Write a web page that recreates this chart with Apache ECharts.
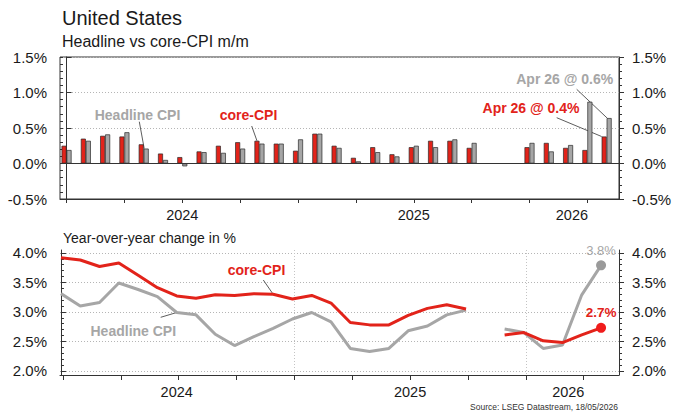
<!DOCTYPE html>
<html>
<head>
<meta charset="utf-8">
<title>United States CPI</title>
<script src="https://cdn.jsdelivr.net/npm/echarts@6/dist/echarts.min.js"></script>
<style>
  html, body { margin: 0; padding: 0; background: #fff; }
  #main { width: 673px; height: 414px; }
</style>
</head>
<body>
<div id="main"></div>
<script>
// months, Dec 2023 .. Apr 2026 (Oct/Nov 2025 m/m not published)
var months = ['Dec 23', 'Jan 24', 'Feb 24', 'Mar 24', 'Apr 24', 'May 24', 'Jun 24', 'Jul 24', 'Aug 24', 'Sep 24',
  'Oct 24', 'Nov 24', 'Dec 24', 'Jan 25', 'Feb 25', 'Mar 25', 'Apr 25', 'May 25', 'Jun 25', 'Jul 25',
  'Aug 25', 'Sep 25', 'Oct 25', 'Nov 25', 'Dec 25', 'Jan 26', 'Feb 26', 'Mar 26', 'Apr 26'];

// m/m change in %
var coreMoM = [0.25, 0.35, 0.39, 0.38, 0.27, 0.14, 0.09, 0.17, 0.25, 0.30, 0.32, 0.28, 0.18, 0.42, 0.25,
  0.08, 0.23, 0.13, 0.23, 0.32, 0.32, 0.22, null, null, 0.23, 0.29, 0.22, 0.19, 0.38];
var headlineMoM = [0.19, 0.32, 0.41, 0.44, 0.21, 0.05, -0.04, 0.16, 0.15, 0.21, 0.28, 0.28, 0.34, 0.42, 0.22,
  0.03, 0.16, 0.10, 0.25, 0.23, 0.34, 0.29, null, null, 0.29, 0.17, 0.26, 0.87, 0.64];

// y/y change in %
var coreYoY = [3.92, 3.88, 3.77, 3.83, 3.62, 3.41, 3.27, 3.23, 3.29, 3.28, 3.31, 3.30, 3.22, 3.28, 3.15,
  2.82, 2.78, 2.78, 2.94, 3.06, 3.12, 3.05, null, 2.61, 2.65, 2.51, 2.48, 2.61, 2.73];
var headlineYoY = [3.31, 3.10, 3.16, 3.49, 3.38, 3.26, 2.99, 2.95, 2.62, 2.43, 2.58, 2.72, 2.88, 2.99, 2.83,
  2.38, 2.33, 2.38, 2.68, 2.76, 2.95, 3.03, null, 2.71, 2.65, 2.38, 2.44, 3.29, 3.79];

// tick labels
var yearLabels = ['2024', '2025', '2026'];
var momTicks = [-0.5, 0, 0.5, 1.0, 1.5];
var yoyTicks = [2.0, 2.5, 3.0, 3.5, 4.0];

var FONT = '"Liberation Sans", Arial, sans-serif';
var RED = '#e2231a';
var GREY = '#a6a6a6';
var AXIS = '#333';
var TXT = '#1a1a1a';

var chart = echarts.init(document.getElementById('main'), null, { renderer: 'svg' });

function pairs(arr) {
  var out = [];
  arr.forEach(function (v, i) { out.push([i, v == null ? '-' : v]); });
  return out;
}

function minorsOf(ticks) {
  var out = [];
  for (var v = ticks[0]; v <= ticks[ticks.length - 1] + 1e-9; v += 0.1) out.push(Math.round(v * 10) / 10);
  return out;
}

// quarter ticks (every 3rd month)
var quarters = months.map(function (m, i) { return i; }).filter(function (i) { return i % 3 === 0; });

function yearFmt(pos) {
  return function (v) {
    var best = 0;
    pos.forEach(function (p, k) { if (Math.abs(p - v) < Math.abs(pos[best] - v)) best = k; });
    return yearLabels[best];
  };
}

function yAxes(grid, min, max, majors, split) {
  var minors = minorsOf(majors);
  var lbl = { customValues: majors, formatter: function (v) { return v.toFixed(1) + '%'; },
    fontSize: 15, color: TXT, fontFamily: FONT, margin: 13 };
  return [
    { type: 'value', gridIndex: grid, position: 'left', min: min, max: max,
      axisLine: { show: true, lineStyle: { color: AXIS } },
      axisTick: { show: true, inside: true, length: 5, customValues: majors, lineStyle: { color: AXIS } },
      axisLabel: lbl,
      splitLine: { show: split, lineStyle: { color: '#b5b5b5', type: [1, 2], width: 1 } } },
    { type: 'value', gridIndex: grid, position: 'left', min: min, max: max,
      axisLine: { show: false },
      axisTick: { show: true, inside: true, length: 3, customValues: minors, lineStyle: { color: AXIS } },
      axisLabel: { show: false }, splitLine: { show: false } },
    { type: 'value', gridIndex: grid, position: 'right', min: min, max: max,
      axisLine: { show: true, lineStyle: { color: AXIS } },
      axisTick: { show: true, inside: false, length: 5, customValues: majors, lineStyle: { color: AXIS } },
      axisLabel: lbl, splitLine: { show: false } },
    { type: 'value', gridIndex: grid, position: 'right', min: min, max: max,
      axisLine: { show: false },
      axisTick: { show: true, inside: false, length: 3, customValues: minors, lineStyle: { color: AXIS } },
      axisLabel: { show: false }, splitLine: { show: false } }
  ];
}

var topYearPos = [6, 18, 26.2];
var botYearPos = [6, 18.1, 26.3];

chart.setOption({
  animation: false,
  backgroundColor: '#fff',
  textStyle: { fontFamily: FONT },
  grid: [
    { left: 60, top: 57, width: 559, height: 142, show: true, borderColor: AXIS, borderWidth: 1,
      backgroundColor: 'transparent', outerBoundsMode: 'none' },
    { left: 60, top: 250, width: 559, height: 125, outerBoundsMode: 'none' }
  ],
  xAxis: [
    { type: 'value', gridIndex: 0, min: -0.34, max: 28.64,
      axisLine: { show: true, onZero: false, lineStyle: { color: AXIS } },
      axisTick: { show: true, length: 4, customValues: quarters, lineStyle: { color: AXIS } },
      axisLabel: { customValues: topYearPos, formatter: yearFmt(topYearPos), fontSize: 14.5, color: TXT, margin: 8 },
      splitLine: { show: false } },
    { type: 'value', gridIndex: 1, min: -0.05, max: 28.93,
      axisLine: { show: true, onZero: false, lineStyle: { color: AXIS } },
      axisTick: { show: true, length: 5, customValues: quarters.map(function (q) { return q + 0.1; }), lineStyle: { color: AXIS } },
      axisLabel: { customValues: botYearPos, formatter: yearFmt(botYearPos), fontSize: 14.5, color: TXT, margin: 9 },
      splitLine: { show: false } },
    // year boundary gridlines of the lower panel
    { type: 'value', gridIndex: 1, min: -0.05, max: 28.93,
      axisLine: { show: false, onZero: false },
      axisTick: { show: false, customValues: [12.1, 24.1] },
      axisLabel: { show: false },
      splitLine: { show: true, lineStyle: { color: '#c4c4c4', type: [1, 2], width: 1 } } }
  ],
  yAxis: yAxes(0, -0.5, 1.5, momTicks, true).concat(yAxes(1, 1.93, 4.05, yoyTicks, true)),
  series: [
    { name: 'core-CPI m/m', type: 'bar', xAxisIndex: 0, yAxisIndex: 0, barWidth: 5, barGap: '0%',
      data: pairs(coreMoM).filter(function (d) { return d[1] !== '-'; }),
      itemStyle: { color: RED, borderColor: '#2a2a2a', borderWidth: 0.7 },
      markLine: { silent: true, symbol: 'none', label: { show: false },
        lineStyle: { color: AXIS, width: 1, type: 'solid' }, data: [{ yAxis: 0 }] } },
    { name: 'Headline CPI m/m', type: 'bar', xAxisIndex: 0, yAxisIndex: 0, barWidth: 5, barGap: '0%',
      data: pairs(headlineMoM).filter(function (d) { return d[1] !== '-'; }),
      itemStyle: { color: GREY, borderColor: '#2a2a2a', borderWidth: 0.7 } },
    { name: 'Headline CPI y/y', type: 'line', xAxisIndex: 1, yAxisIndex: 4,
      data: pairs(headlineYoY), connectNulls: false,
      symbol: 'circle', showSymbol: true,
      symbolSize: function (v, p) { return p.dataIndex === months.length - 1 ? 10 : 0; },
      lineStyle: { color: GREY, width: 3 }, itemStyle: { color: '#9a9a9a' },
      label: { show: true, position: 'top', distance: 3, color: GREY, fontSize: 13, fontFamily: FONT,
        formatter: function (p) { return p.dataIndex === months.length - 1 ? p.value[1].toFixed(1) + '%' : ''; } } },
    { name: 'core-CPI y/y', type: 'line', xAxisIndex: 1, yAxisIndex: 4,
      data: pairs(coreYoY), connectNulls: false,
      symbol: 'circle', showSymbol: true,
      symbolSize: function (v, p) { return p.dataIndex === months.length - 1 ? 10 : 0; },
      lineStyle: { color: RED, width: 3 }, itemStyle: { color: '#f01c1c' },
      label: { show: true, position: 'top', distance: 3, color: RED, fontSize: 13.5, fontWeight: 'bold', fontFamily: FONT,
        formatter: function (p) { return p.dataIndex === months.length - 1 ? p.value[1].toFixed(1) + '%' : ''; } } }
  ]
});

// annotations, leader lines end on the data
function px(xi, yi, p) { return chart.convertToPixel({ xAxisIndex: xi, yAxisIndex: yi }, p); }
function txt(s, x, y, fill, font, align) {
  return { type: 'text', x: x, y: y, silent: true,
    style: { text: s, fill: fill, font: font, align: align || 'center', verticalAlign: 'middle' } };
}
function lead(x1, y1, end, dx) {
  return { type: 'line', silent: true, shape: { x1: x1, y1: y1, x2: end[0] + (dx || 0), y2: end[1] },
    style: { stroke: '#333', lineWidth: 0.8 } };
}

var last = months.length - 1;
var B14 = 'bold 14px ' + FONT;

chart.setOption({
  graphic: [
    txt('United States', 62, 18, TXT, '20px ' + FONT, 'left'),
    txt('Headline vs core-CPI m/m', 62, 41, TXT, '16px ' + FONT, 'left'),
    txt('Year-over-year change in %', 63, 238, TXT, '14px ' + FONT, 'left'),
    txt('Source: LSEG Datastream, 18/05/2026', 618, 407, '#333', '8.5px ' + FONT, 'right'),

    txt('Headline CPI', 137.5, 115, GREY, B14),
    lead(139.3, 121.7, px(0, 0, [4, headlineMoM[4]]), 0.5),
    txt('core-CPI', 248.5, 115, RED, B14),
    lead(251.7, 126, px(0, 0, [10, coreMoM[10]]), -2.5),
    txt(months[last] + ' @ ' + headlineMoM[last].toFixed(1) + '%', 564.7, 79, GREY, B14),
    lead(576.7, 89.3, px(0, 0, [last, headlineMoM[last]]), 0.5),
    txt(months[last] + ' @ ' + coreMoM[last].toFixed(1) + '%', 531, 108.3, RED, B14),
    lead(556.7, 117.7, px(0, 0, [last, coreMoM[last]]), -5),

    txt('core-CPI', 256.5, 270, RED, B14),
    lead(263.3, 280, px(1, 4, [11, coreYoY[11]])),
    txt('Headline CPI', 133.3, 331, GREY, B14),
    lead(160.7, 317.3, px(1, 4, [6, headlineYoY[6]]))
  ]
});
</script>
</body>
</html>
